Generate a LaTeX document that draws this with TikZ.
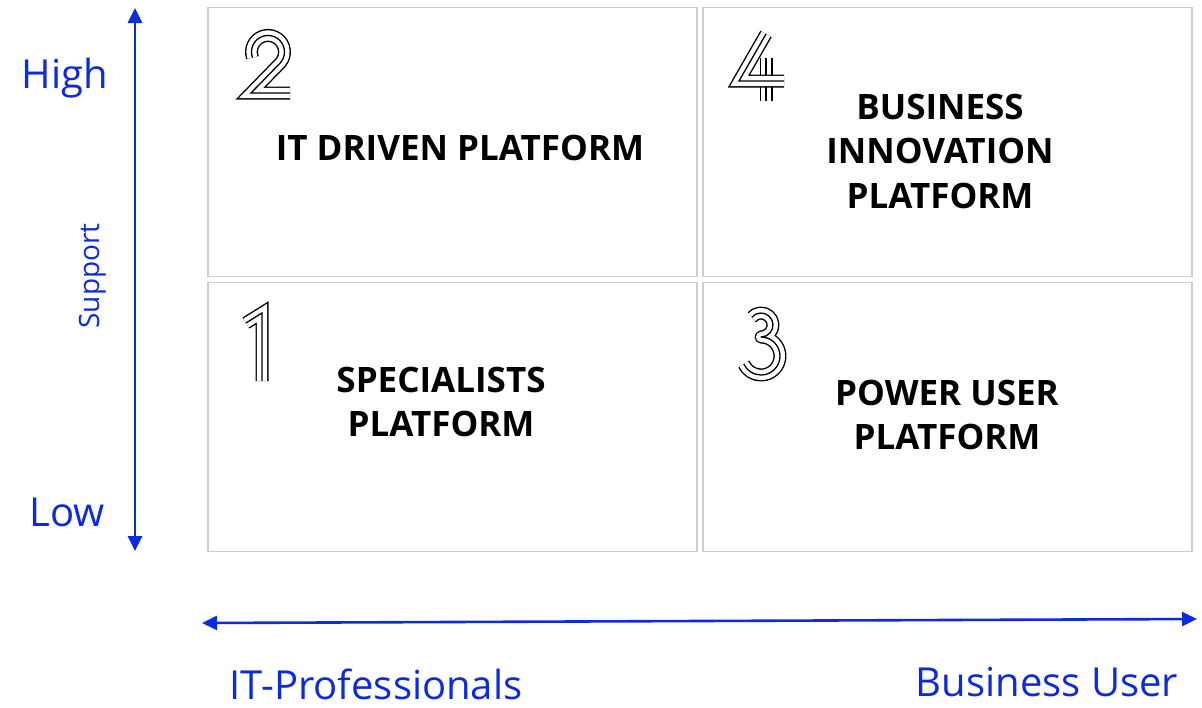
\documentclass[tikz,border=0pt]{standalone}
\usepackage{fontspec}
\setmainfont{Open Sans}
\usetikzlibrary{arrows.meta}
\definecolor{axisblue}{RGB}{12,42,222}
\definecolor{cellgray}{RGB}{205,205,205}

\begin{document}
\begin{tikzpicture}[x=1pt, y=-1pt,
  cell/.style={draw=cellgray, line width=1.4pt, minimum width=489pt, minimum height=269pt, inner sep=0pt},
  axis/.style={axisblue, line width=2.6pt, {Triangle[length=15pt, width=14pt]}-{Triangle[length=15pt, width=14pt]}},
  axislabel/.style={text=axisblue, font=\fontsize{40}{44}\selectfont, inner sep=0pt, anchor=base},
  quadtext/.style={font=\fontsize{35}{44.5}\selectfont\bfseries, align=center, inner sep=0pt},
  trio/.style={draw=black, line width=13pt, line cap=butt,
    postaction={draw=white, line width=10.2pt},
    postaction={draw=black, line width=1.3pt}}]

\useasboundingbox (0,0) rectangle (1202,707);

% quadrants
\node[cell] (q2) at (452.5,142) {};
\node[cell] (q4) at (947.5,142) {};
\node[cell] (q1) at (452.5,417) {};
\node[cell] (q3) at (947.5,417) {};

\node[quadtext] (q2text) at (460,148) {IT DRIVEN PLATFORM};
\node[quadtext] (q4text) at (940,151) {BUSINESS\\INNOVATION\\PLATFORM};
\node[quadtext] (q1text) at (441,402) {SPECIALISTS\\PLATFORM};
\node[quadtext] (q3text) at (947,415) {POWER USER\\PLATFORM};

% outlined numbers
\draw[trio] (252.5,57.6) arc[start angle=160, end angle=400, radius=16.5] -- (251,93) -- (290,93);
\draw[trio] (766,58) -- (766,101);
\draw[trio] (766,34) -- (739,81) -- (784,81);
\draw[trio] (246,323) -- (262,313) -- (262,381);
\draw[trio, line join=round] (751.8,317.3) arc[start angle=220, end angle=450, radius=12] arc[start angle=-90, end angle=155, radius=19];

% axes
\coordinate (ytop) at (135,8);
\coordinate (ybot) at (135,551);
\draw[axis] (ybot) -- (ytop);
\coordinate (xleft) at (202,623);
\coordinate (xright) at (1197,619);
\draw[axis] (xleft) -- (xright);

\node[axislabel] (high) at (65,88) {High};
\node[axislabel] (low) at (67,526) {Low};
\node[axislabel, font=\fontsize{28}{32}\selectfont, rotate=90, anchor=center] (support) at (93,276) {Support};
\node[axislabel] (itpro) at (376,699) {IT-Professionals};
\node[axislabel] (bizuser) at (1047,696) {Business User};

\end{tikzpicture}
\end{document}
